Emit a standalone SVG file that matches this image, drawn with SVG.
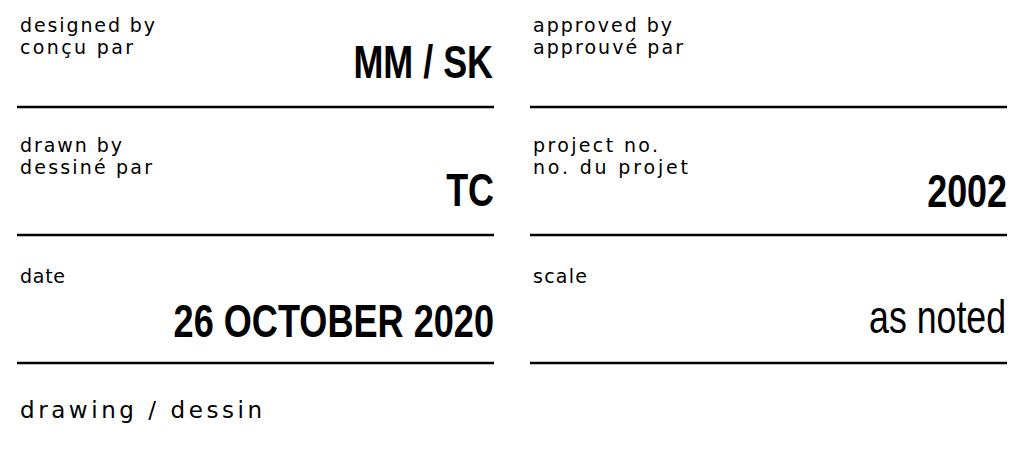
<svg xmlns="http://www.w3.org/2000/svg" width="1024" height="449" viewBox="0 0 1024 449">
<style>
.lbl{font-family:"DejaVu Sans","Liberation Sans",sans-serif;font-size:19px;fill:#000}
.big{font-family:"Liberation Sans",Arial,sans-serif;font-size:46px;font-weight:bold;fill:#000;text-anchor:end}
.reg{font-family:"Liberation Sans",Arial,sans-serif;font-size:46px;fill:#000;text-anchor:end}
.rule{stroke:#000;stroke-width:2.5}
</style>
<rect width="1024" height="449" fill="#fff"/>
<g id="designed">
<text class="lbl" x="20" y="32" textLength="135">designed by</text>
<text class="lbl" x="20" y="54" textLength="113">conçu par</text>
<text class="big" transform="translate(493 78) scale(0.78 1)">MM / SK</text>
<line class="rule" x1="17" y1="107" x2="494" y2="107"/>
</g>
<g id="approved">
<text class="lbl" x="533" y="32" textLength="139">approved by</text>
<text class="lbl" x="533" y="54" textLength="150">approuvé par</text>
<line class="rule" x1="530" y1="107" x2="1007" y2="107"/>
</g>
<g id="drawn">
<text class="lbl" x="20" y="152" textLength="102">drawn by</text>
<text class="lbl" x="20" y="174" textLength="132">dessiné par</text>
<text class="big" transform="translate(494 206) scale(0.78 1)">TC</text>
<line class="rule" x1="17" y1="235" x2="494" y2="235"/>
</g>
<g id="project">
<text class="lbl" x="533" y="152" textLength="125">project no.</text>
<text class="lbl" x="533" y="174" textLength="155">no. du projet</text>
<text class="big" transform="translate(1007 207) scale(0.78 1)">2002</text>
<line class="rule" x1="530" y1="235" x2="1007" y2="235"/>
</g>
<g id="date">
<text class="lbl" x="20" y="283" textLength="45">date</text>
<text class="big" transform="translate(494 337) scale(0.785 1)">26 OCTOBER 2020</text>
<line class="rule" x1="17" y1="363" x2="494" y2="363"/>
</g>
<g id="scale">
<text class="lbl" x="533" y="283" textLength="54">scale</text>
<text class="reg" transform="translate(1006 333) scale(0.776 1)">as noted</text>
<line class="rule" x1="530" y1="363" x2="1007" y2="363"/>
</g>
<g id="drawing">
<text class="lbl" x="20" y="418" style="font-size:23px" textLength="242">drawing / dessin</text>
</g>
</svg>
